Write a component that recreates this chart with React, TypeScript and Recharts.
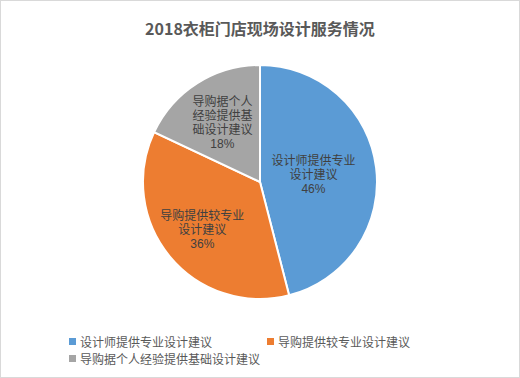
import React from 'react'
import { PieChart, Pie, Cell, Legend } from 'recharts'

const categories = ['设计师提供专业设计建议', '导购提供较专业设计建议', '导购据个人经验提供基础设计建议']
const values = [46, 36, 18]
const labelLines = [
  ['设计师提供专业', '设计建议'],
  ['导购提供较专业', '设计建议'],
  ['导购据个人', '经验提供基', '础设计建议'],
]
const colors = ['#5B9BD5', '#ED7D31', '#A5A5A5']
const labelDist = [0.46, 0.64, 0.6]

const data = categories.map((name, i) => ({ name, value: values[i] }))
const RAD = Math.PI / 180
const FONT = '"Noto Sans CJK SC", "Noto Sans", sans-serif'
const LABEL_FONT = '"Liberation Sans", "Noto Sans CJK SC", sans-serif'

function renderLabel(props: any) {
  const { cx, cy, midAngle, outerRadius, index, percent } = props
  const r = outerRadius * labelDist[index]
  const x = cx + r * Math.cos(-midAngle * RAD)
  const y = cy + r * Math.sin(-midAngle * RAD)
  const lines = [...labelLines[index], `${Math.round(percent * 100)}%`]
  const lh = 14
  const top = y - ((lines.length - 1) * lh) / 2
  return (
    <text x={x} y={top} textAnchor="middle" fill="#404040" fontSize={12} fontFamily={LABEL_FONT} dominantBaseline="central">
      {lines.map((l, i) => (
        <tspan key={i} x={x} y={top + i * lh}>{l}</tspan>
      ))}
    </text>
  )
}

function renderLegend() {
  return (
    <div style={{ display: 'flex', flexWrap: 'wrap', width: 400, fontFamily: FONT, fontSize: 12, color: '#595959' }}>
      {data.map((d, i) => (
        <div key={d.name} style={{ width: 198, display: 'flex', alignItems: 'center', height: 17, whiteSpace: 'nowrap' }}>
          <span style={{ width: 7, height: 7, background: colors[i], marginRight: 4, display: 'inline-block' }} />
          {d.name}
        </div>
      ))}
    </div>
  )
}

export default function App() {
  return (
    <div style={{ position: 'fixed', left: 0, top: 0, width: 518, height: 376, border: '1px solid #d9d9d9', background: '#fff' }}>
      <div style={{ position: 'absolute', top: 15, width: '100%', textAlign: 'center', fontFamily: FONT, fontSize: 16, fontWeight: 'bold', color: '#595959' }}>
        2018衣柜门店现场设计服务情况
      </div>
      <PieChart width={518} height={376} margin={{ top: 0, right: 0, bottom: 0, left: 0 }} style={{ position: 'absolute', left: 0, top: 0 }}>
        <Pie
          data={data}
          dataKey="value"
          nameKey="name"
          cx={259}
          cy={181}
          outerRadius={117}
          startAngle={90}
          endAngle={-270}
          stroke="#fff"
          strokeWidth={2}
          label={renderLabel}
          labelLine={false}
          isAnimationActive={false}
        >
          {data.map((d, i) => (
            <Cell key={d.name} fill={colors[i]} />
          ))}
        </Pie>
        <Legend content={renderLegend} wrapperStyle={{ left: 68, top: 332, width: 420 }} />
      </PieChart>
    </div>
  )
}
